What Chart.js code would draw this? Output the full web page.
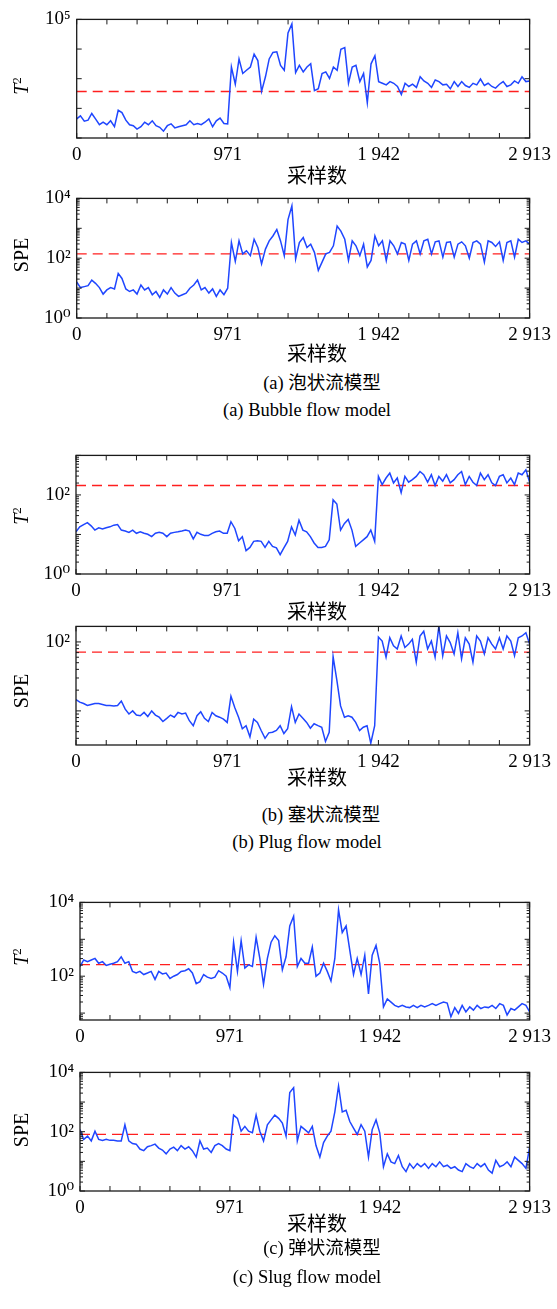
<!DOCTYPE html>
<html>
<head>
<meta charset="utf-8">
<script src="https://cdn.jsdelivr.net/npm/chart.js@4.4.0/dist/chart.umd.min.js"></script>
<style>
  body { margin: 0; background: #fff; }
  #page { position: relative; width: 557px; height: 1309px; overflow: hidden; font-family: "Liberation Serif", "DejaVu Serif", serif; color: #000; }
  .pane { position: absolute; left: 0; }
  .txt { position: absolute; white-space: nowrap; transform: translate(-50%, -50%); }
  .ytitle { transform: translate(-50%, -50%) rotate(-90deg); font-size: 20px; }
  .ytitle sup { font-size: 13px; font-style: normal; }
  .xtitle { font-family: "Noto Sans CJK SC", sans-serif; font-size: 20px; }
  .cap { font-size: 18.5px; }
  .cap span { font-family: "Noto Sans CJK SC", sans-serif; }
</style>
</head>
<body>
<div id="page"></div>
<script>
// sample positions shared by every series
const sampleIdx = [0,24,49,73,97,121,146,170,194,218,243,
  267,291,316,340,364,388,413,437,461,486,
  510,534,558,583,607,631,655,680,704,728,
  753,777,801,825,850,874,898,922,947,971,
  995,1020,1044,1068,1092,1117,1141,1165,1189,1214,
  1238,1262,1287,1311,1335,1359,1384,1408,1432,1457,
  1481,1505,1529,1554,1578,1602,1626,1651,1675,1699,
  1724,1748,1772,1796,1821,1845,1869,1893,1918,1942,
  1966,1991,2015,2039,2063,2088,2112,2136,2160,2185,
  2209,2233,2258,2282,2306,2330,2355,2379,2403,2428,
  2452,2476,2500,2525,2549,2573,2597,2622,2646,2670,
  2694,2719,2743,2767,2792,2816,2840,2864,2889,2913];

const xTickValues = [0, 971, 1942, 2913];
const xTickLabels = ["0", "971", "1 942", "2 913"];

// (a) bubble flow
const bubbleT2 = [44,56,37,40,67,44,28,34,28,38,24,
  86,72,40,28,26,20,24,34,28,38,
  26,23,17,26,30,22,24,26,28,38,
  28,31,28,34,44,24,38,47,31,30,
  2470,650,4640,1500,1920,2470,6770,4090,375,1160,
  4640,7680,8070,2810,1920,34800,70300,1610,2810,1700,
  2470,3180,394,458,1500,1700,1020,2470,1920,9880,
  11200,703,2470,2810,798,1500,155,3180,5970,798,
  703,620,800,700,547,291,700,547,652,507,
  1160,838,700,507,904,800,620,652,458,800,
  547,800,589,507,700,620,975,589,700,547,
  482,652,800,547,620,838,700,1160,800,838];
const bubbleSPE = [16,10.4,11.2,12.1,18.5,14.4,10.4,6.3,8.7,10.4,9.4,
  31,21,9.4,7.7,8.7,6.3,12.7,8.7,10.4,6.0,
  7.7,4.9,8.7,6.3,10.4,6.8,5.3,6.0,6.8,9.9,
  12.7,18.5,8.7,10.4,6.8,9.4,5.3,8.7,6.0,9.9,
  335,78,379,139,178,122,430,229,65,202,
  379,553,916,379,122,1950,5610,95,335,488,
  229,295,157,39,74,139,157,260,1180,807,
  430,84,379,260,122,295,51,84,553,260,
  379,84,379,260,139,335,295,84,295,379,
  139,379,430,139,352,379,108,335,352,108,
  295,352,260,100,335,379,295,74,379,335,
  247,352,84,335,379,108,430,335,379,295];

// (b) plug flow
const plugT2 = [11.7,15.6,17.8,20,16.5,12.9,14.8,13.7,14.8,15.6,17.2,
  17.8,12.9,12.2,11.3,12.9,10.7,11.7,10.7,10.1,8.8,
  10.7,11.3,10.7,8.8,10.7,11.3,11.7,12.2,12.9,12.2,
  7.7,11.3,10.1,9.4,9.4,10.7,11.7,12.2,10.7,10.7,
  21,14.2,6.9,8.8,3.9,4.7,6.7,6.9,6.7,4.7,
  6.7,5.0,4.6,3.1,4.6,6.7,15.6,9.7,23,12.9,
  11.7,8.8,6.1,4.7,4.7,5.0,7.3,75,59,12.9,
  19,24,12.9,5.0,6.1,7.3,8.8,12.9,6.7,294,
  183,268,356,202,268,114,294,210,244,294,
  392,324,210,324,173,294,222,324,202,244,
  324,392,183,294,210,173,356,244,324,202,
  173,294,324,202,268,183,356,324,430,210];
const plugSPE = [14.6,13.4,12.8,12.0,12.4,12.8,12.8,12.4,12.0,12.0,11.8,
  12.0,13.9,10.6,9.0,10,8.7,8.5,9.5,8.3,10,
  8.7,8.1,7.0,7.8,8.7,8.1,9.5,9.0,9.3,7.2,
  6.1,8.5,9.7,7.8,7.0,9.5,8.5,8.1,7.6,6.8,
  16.3,11.1,8.1,5.5,6.1,4.2,7.6,6.8,5.2,4.0,
  4.8,4.9,5.2,6.1,4.7,5.5,11.5,6.8,9.0,7.8,
  6.8,5.6,6.5,6.1,5.8,3.6,4.9,61,28,11.8,
  8.1,8.5,8.1,6.8,5.2,5.8,6.1,3.4,6.1,118,
  103,60,115,88,79,122,83,93,109,51,
  122,143,79,103,60,168,63,122,98,67,
  136,57,115,93,51,122,103,67,115,93,
  79,115,79,122,103,63,115,122,136,93];

// (c) slug flow
const slugT2 = [183,275,248,275,303,224,248,195,211,224,248,
  336,224,248,135,122,135,111,122,135,82,
  135,115,122,87,100,111,135,141,159,122,
  63,71,111,94,87,94,141,122,100,49,
  834,135,922,166,203,183,1130,303,60,303,
  834,1250,922,150,336,2290,4200,183,303,224,
  224,615,100,122,224,135,74,303,6280,1530,
  2290,503,111,303,111,371,33,371,681,224,
  14.7,24.3,19.9,16.2,14.7,16.2,14.7,14.1,16.2,14.1,
  16.2,14.7,16.2,18.0,16.2,18.0,19.9,18.7,8.0,14.1,
  9.8,16.2,10.8,14.7,12.0,16.2,13.3,14.7,14.1,16.2,
  13.3,18.0,16.2,8.9,13.3,12.0,14.7,18.0,16.2,10.8];
const slugSPE = [118,55,71,49,104,55,51,55,51,51,49,
  49,172,49,40,38,26,23,31,34,38,
  28,24,17.9,26,30,23,34,26,31,23,
  13.9,49,26,28,20,34,40,34,26,23,
  364,283,104,151,104,92,364,104,49,172,
  250,364,283,194,71,2110,3070,49,151,118,
  92,151,34,13.9,43,71,104,468,3480,468,
  531,220,133,81,172,104,13.9,118,250,92,
  6.6,17.9,9.6,8.4,15.8,6.6,4.5,8.4,5.8,8.4,
  6.6,8.4,5.8,8.4,6.6,9.6,6.6,7.4,5.8,6.6,
  5.1,4.5,8.4,6.6,5.8,8.4,6.6,8.4,5.1,4.0,
  10.8,6.6,7.4,9.6,6.6,13.9,10.8,8.4,5.8,30];

// control limits (red dashed)
const bubbleT2Limit = 370, bubbleSPELimit = 139;
const plugT2Limit = 173, plugSPELimit = 71;
const slugT2Limit = 207, slugSPELimit = 81;

const panels = [
  { data: bubbleT2, limit: bubbleT2Limit, min: 10, max: 1e5, minor: false, labels: [5], top: 15.7, bottom: 137.7, left: 76.7, right: 530.7 },
  { data: bubbleSPE, limit: bubbleSPELimit, min: 1, max: 1e4, minor: true, labels: [0, 2, 4], top: 195, bottom: 317.7, left: 76.7, right: 530.7 },
  { data: plugT2, limit: plugT2Limit, min: 1, max: 1000, minor: true, labels: [0, 2], top: 451.7, bottom: 573.3, left: 76, right: 530 },
  { data: plugSPE, limit: plugSPELimit, min: 3.2, max: 168, minor: true, labels: [2], top: 623.3, bottom: 745, left: 76, right: 530 },
  { data: slugT2, limit: slugT2Limit, min: 6.5, max: 1e4, minor: true, labels: [2, 4], top: 899, bottom: 1020, left: 80, right: 533.3 },
  { data: slugSPE, limit: slugSPELimit, min: 1, max: 1e4, minor: true, labels: [0, 2, 4], top: 1069.3, bottom: 1191.7, left: 80, right: 533.3 },
];

const texts = [
  { html: "<i>T</i><sup>2</sup>", x: 21, y: 86, cls: "ytitle" },
  { html: "采样数", x: 317, y: 174, cls: "xtitle" },
  { html: "SPE", x: 21, y: 255, cls: "ytitle" },
  { html: "采样数", x: 317, y: 352, cls: "xtitle" },
  { html: "(a) <span>泡状流模型</span>", x: 322, y: 381, cls: "cap" },
  { html: "(a) Bubble flow model", x: 307, y: 410, cls: "cap" },
  { html: "<i>T</i><sup>2</sup>", x: 21, y: 516, cls: "ytitle" },
  { html: "采样数", x: 317, y: 610, cls: "xtitle" },
  { html: "SPE", x: 21, y: 691, cls: "ytitle" },
  { html: "采样数", x: 317, y: 776, cls: "xtitle" },
  { html: "(b) <span>塞状流模型</span>", x: 321, y: 813, cls: "cap" },
  { html: "(b) Plug flow model", x: 307, y: 842, cls: "cap" },
  { html: "<i>T</i><sup>2</sup>", x: 21, y: 957, cls: "ytitle" },
  { html: "SPE", x: 21, y: 1130, cls: "ytitle" },
  { html: "采样数", x: 317, y: 1222, cls: "xtitle" },
  { html: "(c) <span>弹状流模型</span>", x: 322, y: 1246, cls: "cap" },
  { html: "(c) Slug flow model", x: 307, y: 1277, cls: "cap" },
];

const sup = ["⁰", "¹", "²", "³", "⁴", "⁵"];
const tickFont = { family: "'Liberation Serif', 'DejaVu Serif', serif", size: 19 };
const PAD_TOP = 14, X_AXIS_H = 40;

function logTicks(min, max, minor) {
  const out = [];
  const steps = minor ? [1, 2, 3, 4, 5, 6, 7, 8, 9] : [1];
  for (let e = Math.floor(Math.log10(min)); e <= Math.ceil(Math.log10(max)); e++) {
    steps.forEach((m) => {
      const v = m * Math.pow(10, e);
      if (v >= min * 0.999 && v <= max * 1.001) out.push({ value: v });
    });
  }
  return out;
}

function isDecade(v) {
  const e = Math.round(Math.log10(v));
  return Math.abs(v - Math.pow(10, e)) < 1e-6 * v;
}

// box round the plot and inward tick marks on all four sides
const frameTicks = {
  id: "frameTicks",
  afterDraw(chart) {
    const { ctx, chartArea: a, scales } = chart;
    ctx.save();
    ctx.strokeStyle = "#1a1a1a";
    ctx.lineWidth = 1;
    ctx.beginPath();
    scales.x.ticks.forEach((t) => {
      const px = scales.x.getPixelForValue(t.value);
      ctx.moveTo(px, a.bottom);
      ctx.lineTo(px, a.bottom - 5);
      ctx.moveTo(px, a.top);
      ctx.lineTo(px, a.top + 5);
    });
    scales.y.ticks.forEach((t) => {
      const py = scales.y.getPixelForValue(t.value);
      const len = isDecade(t.value) ? 5 : 3;
      ctx.moveTo(a.left, py);
      ctx.lineTo(a.left + len, py);
      ctx.moveTo(a.right, py);
      ctx.lineTo(a.right - len, py);
    });
    ctx.stroke();
    ctx.lineWidth = 1.3;
    ctx.strokeRect(a.left, a.top, a.right - a.left, a.bottom - a.top);
    ctx.restore();
  },
};

const page = document.getElementById("page");

panels.forEach((p) => {
  const h = PAD_TOP + (p.bottom - p.top) + X_AXIS_H;
  const div = document.createElement("div");
  div.className = "pane";
  div.style.top = p.top - PAD_TOP + "px";
  div.style.width = "557px";
  div.style.height = h + "px";
  const canvas = document.createElement("canvas");
  canvas.width = 557;
  canvas.height = Math.round(h);
  div.appendChild(canvas);
  page.appendChild(div);

  new Chart(canvas.getContext("2d"), {
    type: "line",
    data: {
      datasets: [
        {
          data: sampleIdx.map((x, i) => ({ x, y: p.data[i] })),
          borderColor: "#1f46ff",
          borderWidth: 1.5,
          pointRadius: 0,
          tension: 0,
        },
        {
          data: [{ x: 0, y: p.limit }, { x: 2913, y: p.limit }],
          borderColor: "#ff1f1f",
          borderWidth: 1.3,
          borderDash: [10, 6],
          pointRadius: 0,
        },
      ],
    },
    options: {
      responsive: false,
      animation: false,
      devicePixelRatio: 1,
      layout: { padding: { top: PAD_TOP, left: 0, right: 557 - p.right, bottom: 0 } },
      plugins: { legend: { display: false }, tooltip: { enabled: false } },
      scales: {
        x: {
          type: "linear",
          min: 0,
          max: 2913,
          grid: { display: false, drawTicks: false },
          border: { display: false },
          ticks: {
            autoSkip: false,
            maxRotation: 0,
            padding: 6,
            color: "#000",
            font: tickFont,
            callback: (v) => {
              const i = xTickValues.findIndex((t) => Math.abs(t - v) < 1);
              return i >= 0 ? xTickLabels[i] : "";
            },
          },
          afterBuildTicks: (s) => {
            const out = [];
            for (let i = 0; i <= 15; i++) out.push({ value: (i * 2913) / 15 });
            s.ticks = out;
          },
          afterFit: (s) => { s.height = X_AXIS_H; },
        },
        y: {
          type: "logarithmic",
          min: p.min,
          max: p.max,
          grid: { display: false, drawTicks: false },
          border: { display: false },
          ticks: {
            autoSkip: false,
            padding: 6,
            color: "#000",
            font: tickFont,
            callback: (v) => {
              if (!isDecade(v)) return "";
              const e = Math.round(Math.log10(v));
              return p.labels.includes(e) ? "10" + sup[e] : "";
            },
          },
          afterBuildTicks: (s) => { s.ticks = logTicks(p.min, p.max, p.minor); },
          afterFit: (s) => { s.width = p.left; },
        },
      },
    },
    plugins: [frameTicks],
  });
});

texts.forEach((t) => {
  const d = document.createElement("div");
  d.className = "txt " + t.cls;
  d.style.left = t.x + "px";
  d.style.top = t.y + "px";
  d.innerHTML = t.html;
  page.appendChild(d);
});
</script>
</body>
</html>
